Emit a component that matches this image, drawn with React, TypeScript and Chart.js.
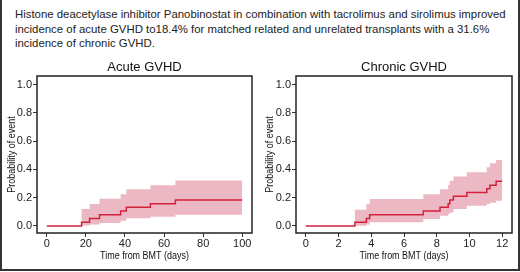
import React, { useEffect, useRef } from 'react';
import { Chart, registerables } from 'chart.js';

Chart.register(...registerables);

// ---------- data ----------
const captionLines = [
  'Histone deacetylase inhibitor Panobinostat in combination with tacrolimus and sirolimus improved',
  'incidence of acute GVHD to18.4% for matched related and unrelated transplants with a 31.6%',
  'incidence of chronic GVHD.',
];

const yTicks = [0, 0.2, 0.4, 0.6, 0.8, 1.0];
const acuteXTicks = [0, 20, 40, 60, 80, 100];
const chronicXTicks = [0, 2, 4, 6, 8, 10, 12];

const acuteTimes = [0, 17.8, 21.9, 27, 37.8, 40.7, 53, 65.8, 100];
const acuteEst = [0, 0.026, 0.053, 0.079, 0.105, 0.132, 0.158, 0.184, 0.184];
const acuteLower = [0, 0.004, 0.01, 0.02, 0.037, 0.054, 0.065, 0.08, 0.08];
const acuteUpper = [0, 0.12, 0.155, 0.193, 0.225, 0.26, 0.289, 0.322, 0.322];

const chronicTimes = [0, 3.0, 3.7, 3.9, 7.18, 8.2, 8.7, 8.8, 9.02, 9.84, 11.06, 11.25, 11.63, 12];
const chronicEst = [0, 0.026, 0.053, 0.079, 0.105, 0.132, 0.158, 0.184, 0.211, 0.237, 0.263, 0.289, 0.316, 0.316];
const chronicLower = [0, 0.002, 0.01, 0.026, 0.05, 0.073, 0.085, 0.096, 0.12, 0.143, 0.155, 0.165, 0.178, 0.178];
const chronicUpper = [0, 0.115, 0.155, 0.19, 0.225, 0.26, 0.29, 0.32, 0.35, 0.38, 0.415, 0.444, 0.467, 0.467];

// ---------- style ----------
const BAND = '#ECB8C3';
const LINE = '#D3213D';
const INK = '#222';
const FONT = '"Liberation Sans", Arial, Helvetica, sans-serif';

const decorPlugin = {
  id: 'decor',
  afterDraw(chart: any, _args: any, opts: any) {
    const { ctx, chartArea: a } = chart;
    ctx.save();
    ctx.strokeStyle = INK;
    ctx.lineWidth = 1.5;
    ctx.strokeRect(a.left, a.top, a.right - a.left, a.bottom - a.top);

    ctx.fillStyle = '#111';
    ctx.font = `13px ${FONT}`;
    ctx.textAlign = 'center';
    ctx.textBaseline = 'alphabetic';
    ctx.fillText(opts.title, (a.left + a.right) / 2, opts.titleY);

    ctx.font = `11.5px ${FONT}`;
    // x axis title (condensed)
    ctx.save();
    ctx.translate((a.left + a.right) / 2, opts.xTitleY);
    ctx.scale(0.78, 1);
    ctx.textBaseline = 'alphabetic';
    ctx.fillText(opts.xTitle, 0, 0);
    ctx.restore();
    // y axis title (condensed, rotated)
    ctx.save();
    ctx.translate(opts.yTitleX, (a.top + a.bottom) / 2);
    ctx.rotate(-Math.PI / 2);
    ctx.scale(0.78, 1);
    ctx.textBaseline = 'middle';
    ctx.fillText(opts.yTitle, 0, 0);
    ctx.restore();
    ctx.restore();
  },
};

type PanelProps = {
  title: string;
  times: number[];
  est: number[];
  lower: number[];
  upper: number[];
  xTicks: number[];
  xMin: number;
  xMax: number;
  left: number;
  yAxisWidth: number;
  yTitleX: number;
};

const pts = (t: number[], v: number[]) => t.map((x, i) => ({ x, y: v[i] }));

function Panel(p: PanelProps) {
  const ref = useRef<HTMLCanvasElement | null>(null);
  useEffect(() => {
    if (!ref.current) return;
    const chart = new Chart(ref.current, {
      type: 'line',
      data: {
        datasets: [
          {
            data: pts(p.times, p.est),
            stepped: 'before',
            borderColor: LINE,
            borderWidth: 1.5,
            pointRadius: 0,
            fill: false,
            order: 0,
          },
          {
            data: pts(p.times, p.upper),
            stepped: 'before',
            borderColor: 'rgba(0,0,0,0)',
            borderWidth: 0,
            pointRadius: 0,
            backgroundColor: BAND,
            fill: '+1',
            order: 1,
          },
          {
            data: pts(p.times, p.lower),
            stepped: 'before',
            borderColor: 'rgba(0,0,0,0)',
            borderWidth: 0,
            pointRadius: 0,
            fill: false,
            order: 1,
          },
        ],
      } as any,
      options: {
        animation: false,
        responsive: false,
        events: [],
        layout: { padding: { top: 26, right: 8, left: 0, bottom: 0 } },
        plugins: {
          legend: { display: false },
          tooltip: { enabled: false },
          title: { display: false },
          decor: {
            title: p.title,
            titleY: 20.5,
            xTitle: 'Time from BMT (days)',
            xTitleY: 208.5,
            yTitle: 'Probability of event',
            yTitleX: p.yTitleX,
          },
        } as any,
        scales: {
          x: {
            type: 'linear',
            min: p.xMin,
            max: p.xMax,
            afterBuildTicks: (s: any) => {
              s.ticks = p.xTicks.map((v) => ({ value: v }));
            },
            afterFit: (s: any) => {
              s.height = 32;
            },
            ticks: {
              font: { family: FONT, size: 11 },
              color: INK,
              padding: 0,
              maxRotation: 0,
              autoSkip: false,
              callback: (v: any) => String(v),
            },
            grid: { drawOnChartArea: false, drawTicks: true, tickLength: 4, tickColor: '#333', tickWidth: 1 },
            border: { display: false },
          },
          y: {
            type: 'linear',
            min: -0.05,
            max: 1.062,
            afterBuildTicks: (s: any) => {
              s.ticks = yTicks.map((v) => ({ value: v }));
            },
            afterFit: (s: any) => {
              s.width = p.yAxisWidth;
            },
            ticks: {
              font: { family: FONT, size: 11 },
              color: INK,
              padding: 1,
              autoSkip: false,
              callback: (v: any) => Number(v).toFixed(1),
            },
            grid: { drawOnChartArea: false, drawTicks: true, tickLength: 4, tickColor: '#333', tickWidth: 1 },
            border: { display: false },
          },
        },
      } as any,
      plugins: [decorPlugin as any],
    });
    return () => chart.destroy();
  }, []);
  return (
    <canvas
      ref={ref}
      width={260}
      height={215}
      style={{ position: 'absolute', left: p.left, top: 50, width: 260, height: 215 }}
    />
  );
}

export default function App() {
  return (
    <div
      style={{
        position: 'absolute',
        left: 0,
        top: 0,
        width: 520,
        height: 272,
        background: '#fff',
        overflow: 'hidden',
      }}
    >
      <div
        style={{
          position: 'absolute',
          left: 0,
          top: 0,
          width: 520,
          height: 271,
          boxSizing: 'border-box',
          borderLeft: '2px solid #333',
          borderRight: '2px solid #333',
          borderBottom: '2px solid #333',
        }}
      />
      <div
        style={{
          position: 'absolute',
          left: 15,
          top: 7,
          fontFamily: FONT,
          fontSize: 11.4,
          lineHeight: '14.7px',
          color: INK,
          whiteSpace: 'pre',
        }}
      >
        {captionLines.map((l, i) => (
          <div key={i}>{l}</div>
        ))}
      </div>
      <Panel
        title="Acute GVHD"
        times={acuteTimes}
        est={acuteEst}
        lower={acuteLower}
        upper={acuteUpper}
        xTicks={acuteXTicks}
        xMin={-5}
        xMax={105}
        left={0}
        yAxisWidth={37}
        yTitleX={12}
      />
      <Panel
        title="Chronic GVHD"
        times={chronicTimes}
        est={chronicEst}
        lower={chronicLower}
        upper={chronicUpper}
        xTicks={chronicXTicks}
        xMin={-0.6}
        xMax={12.6}
        left={260}
        yAxisWidth={36}
        yTitleX={10}
      />
    </div>
  );
}
